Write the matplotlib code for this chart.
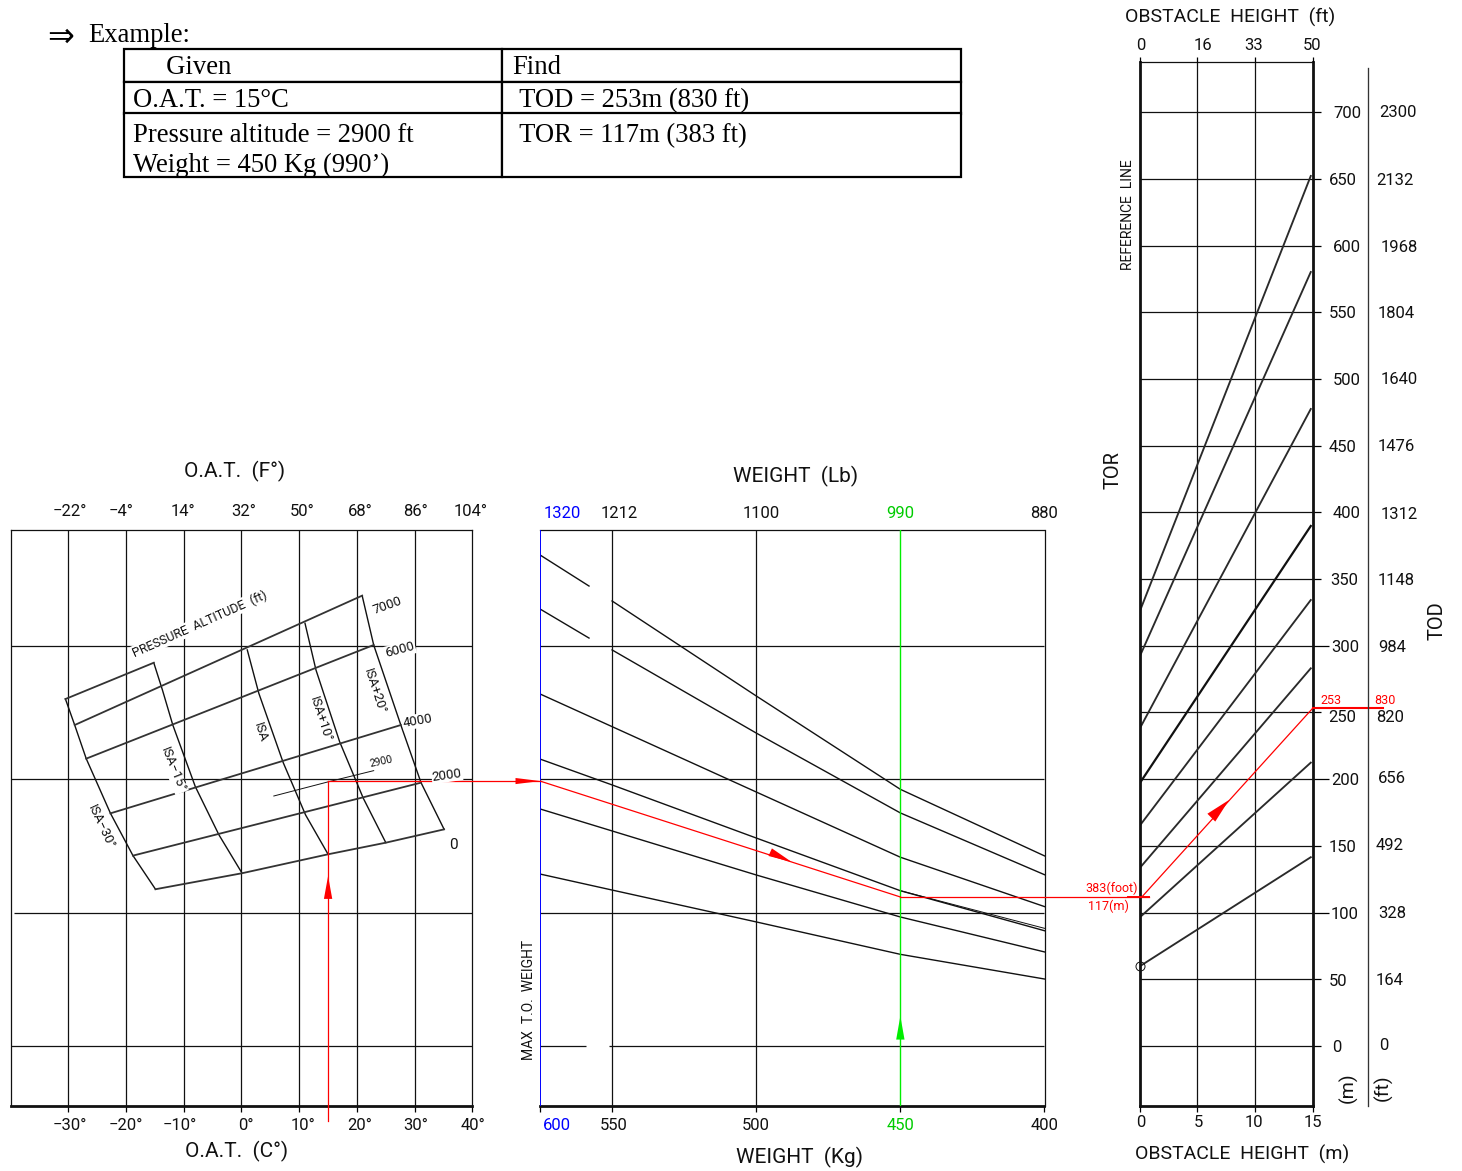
import numpy as np
import matplotlib
matplotlib.use("Agg")
import matplotlib.pyplot as plt
from matplotlib.transforms import ScaledTranslation

CAD = ["Roboto", "DejaVu Sans"]
SERIF = ["Liberation Serif", "DejaVu Serif"]
W, H = 1462, 1171
INK = "#111111"

# --- table
table_text = [["     Given", "Find"],
              ["O.A.T. = 15°C", " TOD = 253m (830 ft)"],
              ["Pressure altitude = 2900 ft\nWeight = 450 Kg (990’)", " TOR = 117m (383 ft)\n "]]

# --- left panel: OAT chart (x in deg C, y on the common TOD metre scale)
oat_c = [-30, -20, -10, 0, 10, 20, 30, 40]
oat_f = ["−22°", "−4°", "14°", "32°", "50°", "68°", "86°", "104°"]
oat_c_labels = ["−30°", "−20°", "−10°", "0°", "10°", "20°", "30°", "40°"]
row_levels = [0, 100, 200, 300]

isa_m30_t = [-30.5, -28.9, -26.9, -22.7, -18.8, -14.9]
isa_m30_y = [260.1, 240.6, 215.4, 174.4, 142.7, 117.5]
isa_m15_t = [-15.2, -13.7, -11.9, -8.0, -3.9, 0.1]
isa_m15_y = [287.3, 266.9, 240.6, 194.4, 158.2, 129.5]
isa_0_t = [1.0, 3.0, 7.2, 11.1, 15.0]
isa_0_y = [296.9, 264.4, 212.7, 173.2, 143.7]
isa_p10_t = [11.0, 12.9, 17.0, 21.1, 25.0]
isa_p10_y = [316.9, 281.9, 228.1, 185.7, 152.4]
isa_p20_t = [20.9, 22.9, 27.6, 31.1, 35.1]
isa_p20_y = [337.6, 300.6, 240.6, 197.4, 162.4]

alt_top_t = [-30.5, -15.2]
alt_top_y = [260.1, 287.3]
alt_7000_t = [-28.9, 20.9]
alt_7000_y = [240.6, 337.6]
alt_6000_t = [-26.9, 22.9]
alt_6000_y = [215.4, 300.6]
alt_4000_t = [-22.7, 27.6]
alt_4000_y = [174.4, 240.6]
alt_2000_t = [-18.8, 31.1]
alt_2000_y = [142.7, 197.4]
alt_0_t = [-14.9, 0.1, 15.0, 25.0, 35.1]
alt_0_y = [117.5, 129.5, 143.7, 152.4, 162.4]
alt_2900_t = [5.6, 15.1, 22.9]
alt_2900_y = [187.4, 198.1, 206.4]

# --- middle panel: weight chart
weight_kg = [600, 550, 500, 450, 400]
weight_lb = ["1320", "1212", "1100", "990", "880"]
stub_kg = [600, 566]
main_kg = [550, 500, 450, 400]
w1_stub = [368.1, 344.8]
w2_stub = [327.6, 305.8]
w1 = [333.6, 262.4, 192.4, 142.5]
w2 = [296.9, 234.6, 174.7, 128.4]
w3 = [263.9, 239.4, 190.4, 141.5, 104.5]
w4 = [215.1, 195.7, 155.9, 116.4, 86.4]
w5 = [177.7, 161.2, 128.2, 96.7, 70.5]
w6 = [128.9, 116.9, 93.0, 68.7, 50.2]
w4b_kg = [450, 400]
w4b = [116.4, 88.2]

# --- right panel: obstacle chart
obst_m = [0, 5, 10, 15]
obst_ft = ["0", "16", "33", "50"]
guide_x = [0, 14.85]
g1 = [59.6, 141.5]
g2 = [96.2, 212.4]
g3 = [133.2, 283.1]
g4 = [164.9, 334.3]
g5 = [196.7, 389.8]
g6 = [237.6, 477.5]
g7 = [291.6, 580.2]
g8 = [325.3, 652.2]
tod_long = [100, 200, 300]
tod_short = [0, 50, 150, 250, 350, 400, 450, 500, 550, 600, 650, 700]
tod_m = [700, 650, 600, 550, 500, 450, 400, 350, 300, 250, 200, 150, 100, 50, 0]
tod_ft = ["2300", "2132", "1968", "1804", "1640", "1476", "1312", "1148", "984", "820", "656", "492", "328", "164", "0"]

# --- worked example
oat_given = 15
weight_given = 450
alt_level = 198.6
tor_level = 111.7
tod_level = 253

fig = plt.figure(figsize=(W / 100, H / 100), dpi=100)
Y0 = -45.0  # value at the bottom line of all panels
PX = 1.334  # pixels per metre of the common vertical scale


def val(py):
    return (1046 - py) / PX


def panel(x0, x1, y0, y1=1106):
    ax = fig.add_axes([x0 / W, 1 - y1 / H, (x1 - x0) / W, (y1 - y0) / H])
    ax.set_ylim(Y0, val(y0))
    ax.patch.set_alpha(0)
    return ax


def shift(labels, dxs, dys=None):
    dys = dys or [0] * len(dxs)
    for lab, dx, dy in zip(labels, dxs, dys):
        lab.set_transform(lab.get_transform() + ScaledTranslation(dx / 100, -dy / 100, fig.dpi_scale_trans))


def put(px, py, s, size=12.5, rot=0, color=INK, white=False, **kw):
    box = dict(fc="white", ec="none", pad=0.5) if white else None
    fig.text(px / W, 1 - py / H, s, fontsize=size, rotation=rot, color=color, family=CAD,
             ha="center", va="center", rotation_mode="anchor", bbox=box, **kw)


def arrow(ax, tip, base, color, length, half):
    ax.annotate("", xy=tip, xytext=base, annotation_clip=False,
                arrowprops=dict(arrowstyle=f"-|>,head_length={length},head_width={half}", color=color,
                                lw=0, shrinkA=0, shrinkB=0, mutation_scale=1))


def style(ax, lw_bottom=2.0):
    for s in ax.spines.values():
        s.set_linewidth(0.9)
        s.set_color(INK)
    ax.spines["bottom"].set_linewidth(lw_bottom)


def broken(v):
    v = np.asarray(v, dtype=float)
    return np.where(v <= 550, v, 550 + (v - 550) * 0.5)


def unbroken(v):
    v = np.asarray(v, dtype=float)
    return np.where(v <= 550, v, 550 + (v - 550) * 2)


# table and header
ax_t = fig.add_axes([124 / W, 1 - 177.5 / H, 837 / W, 129 / H])
ax_t.axis("off")
tab = ax_t.table(cellText=table_text, colWidths=[377.5 / 837, 459.5 / 837], bbox=[0, 0, 1, 1], cellLoc="left")
tab.auto_set_font_size(False)
rows_h = [33, 32, 64]
for (r, c), cell in tab.get_celld().items():
    cell.set_height(rows_h[r])
    cell.set_linewidth(1.6)
    cell.PAD = 0.024
    cell.get_text().set_fontsize(19.2)
    cell.get_text().set_family(SERIF)
    cell.get_text().set_linespacing(1.22)
    cell.get_text().set_verticalalignment("center_baseline")
    cell.get_text().set_color("black")
fig.text(61 / W, 1 - 37 / H, "⇒", fontsize=23, ha="center", va="center", family="DejaVu Sans")
fig.text(88 / W, 1 - 36 / H, "Example:", fontsize=19.2, ha="left", va="center", family=SERIF)

# left panel
ax = panel(10.6, 472.4, 530)
ax.set_xlim(-40, 40)
style(ax)
ax.vlines(oat_c[:-1], Y0, val(530), color=INK, lw=0.9, zorder=1)
ax.hlines(row_levels, [-40, -39.4, -40, -40], 40, color=INK, lw=0.9, zorder=1)
for t, y in [(isa_m30_t, isa_m30_y), (isa_m15_t, isa_m15_y), (isa_0_t, isa_0_y),
             (isa_p10_t, isa_p10_y), (isa_p20_t, isa_p20_y)]:
    ax.plot(t, y, color=INK, lw=1.0, zorder=2)
for t, y in [(alt_top_t, alt_top_y), (alt_7000_t, alt_7000_y), (alt_6000_t, alt_6000_y),
             (alt_4000_t, alt_4000_y), (alt_2000_t, alt_2000_y), (alt_0_t, alt_0_y)]:
    ax.plot(t, y, color="#333333", lw=1.3, zorder=2)
ax.plot(alt_2900_t, alt_2900_y, color=INK, lw=0.7, zorder=2)
ax.set_xticks(oat_c, oat_c_labels, family=CAD, fontsize=12, color=INK)
ax.set_yticks([])
ax.tick_params(axis="x", length=4.3, width=0.9, pad=4.5)
shift(ax.get_xticklabels(), [2, 0, -4, 4, 4, 3, 1, 1])
top = ax.twiny()
top.set_xlim(-40, 40)
top.set_xticks(oat_c, oat_f, family=CAD, fontsize=12, color=INK)
top.tick_params(axis="x", length=0, pad=8)
top.spines[:].set_visible(False)
shift(top.get_xticklabels(), [2, -5, -1, 2, 3, 3, 1, -2])
ax.plot([oat_given, oat_given], [val(1121), alt_level], color="red", lw=0.9, clip_on=False, zorder=4)
ax.plot([oat_given, 51.8], [alt_level, alt_level], color="red", lw=0.9, clip_on=False, zorder=4)
arrow(ax, (oat_given, val(876)), (oat_given, val(899)), "red", 16.5, 3.0)
arrow(ax, (51.8, alt_level), (47.5, alt_level), "red", 18, 2.2)

# middle panel (the axis is broken between 550 and 600 kg)
ax = panel(540, 1044.5, 530)
ax.set_xscale("function", functions=(broken, unbroken))
ax.set_xlim(600, 400)
style(ax)
ax.spines["left"].set_visible(False)
ax.vlines([550, 500], Y0, val(530), color=INK, lw=0.9, zorder=1)
ax.hlines([100, 200, 300], 600, 400, color=INK, lw=0.9, zorder=1)
ax.hlines([0, 0], [600, 552], [568, 400], color=INK, lw=0.9, zorder=1)
ax.axvline(600, color="blue", lw=1.4, zorder=3)
ax.axvline(weight_given, color="#00ee00", lw=1.0, zorder=3)
ax.plot(stub_kg, w1_stub, color=INK, lw=1.0)
ax.plot(stub_kg, w2_stub, color=INK, lw=1.0)
ax.plot(main_kg, w1, color=INK, lw=1.0)
ax.plot(main_kg, w2, color=INK, lw=1.0)
for w in [w3, w4, w5, w6]:
    ax.plot(weight_kg, w, color=INK, lw=1.0)
ax.plot(w4b_kg, w4b, color=INK, lw=0.7)
ax.set_xticks(weight_kg, [str(k) for k in weight_kg], family=CAD, fontsize=12, color=INK)
ax.set_xticks([], minor=True)
ax.set_yticks([])
ax.tick_params(axis="x", length=4.3, width=0.9, pad=4.5)
ax.get_xticklabels()[0].set_color("blue")
ax.get_xticklabels()[3].set_color("#00cc00")
shift(ax.get_xticklabels(), [17, 2, 0, 0, 0])
top = ax.twiny()
top.set_xscale("function", functions=(broken, unbroken))
top.set_xlim(600, 400)
top.set_xticks(weight_kg, weight_lb, family=CAD, fontsize=12, color=INK)
top.set_xticks([], minor=True)
top.tick_params(axis="x", length=0, pad=6.5)
top.spines[:].set_visible(False)
top.get_xticklabels()[0].set_color("blue")
top.get_xticklabels()[3].set_color("#00cc00")
shift(top.get_xticklabels(), [22, 7, 5, 0, 0])
ax.plot([600, weight_given], [alt_level, tor_level], color="red", lw=0.9, zorder=4)
arrow(ax, (487.7, val(862)), (495.3, val(852)), "red", 17, 3.0)
arrow(ax, (weight_given, val(1016)), (weight_given, val(1040)), "#00ee00", 17, 3.0)

# right panel
ax = panel(1139.5, 1312.5, 62)
ax.set_xlim(0, 15)
style(ax)
for s in ["left", "right"]:
    ax.spines[s].set_linewidth(2.0)
ax.vlines([5, 10], Y0, val(62), color=INK, lw=0.9, zorder=1)
ax.hlines(tod_m, 0, 15, color=INK, lw=0.9, zorder=1)
for g in [g1, g2, g3, g4, g6, g7, g8]:
    ax.plot(guide_x, g, color="#2a2a2a", lw=1.35)
ax.plot(guide_x, g5, color="#111111", lw=1.6)
ax.plot([0], [g1[0]], "o", mfc="none", mec=INK, mew=0.7, ms=6.5, clip_on=False, zorder=5)
ax.set_xticks(obst_m, [str(m) for m in obst_m], family=CAD, fontsize=12, color=INK)
ax.tick_params(axis="x", length=4.3, width=0.9, pad=2.5)
shift(ax.get_xticklabels(), [1, 1, -1, 0])
ax.yaxis.tick_right()
ax.set_yticks(tod_long, [str(v) for v in tod_long], family=CAD, fontsize=12, color=INK)
ax.set_yticks(tod_short, [str(v) for v in tod_short], minor=True, family=CAD, fontsize=12, color=INK)
ax.tick_params(axis="y", which="major", length=11.5, width=0.9, pad=1.8)
ax.tick_params(axis="y", which="minor", length=5.8, width=0.9, pad=6)
shift(ax.get_yticklabels(minor=True), [3, 0, 0, -1, 1, 4, 0, 4, 0, 4, 0, 4], [0, 1, 0, 4, 0, 0, 0, 0, 0, 0, 0, 0])
top = ax.twiny()
top.set_xlim(0, 15)
top.set_xticks(obst_m, obst_ft, family=CAD, fontsize=12, color=INK)
top.tick_params(axis="x", length=3.6, width=0.9, pad=3.0)
top.spines[:].set_visible(False)
shift(top.get_xticklabels(), [1, 6, -1, 0])
ax.plot([-20.77, 0.8], [tor_level, tor_level], color="red", lw=0.9, clip_on=False, zorder=4)
ax.plot([-1.0, 0.8], [tor_level, tor_level], color="red", lw=1.4, clip_on=False, zorder=4)
ax.plot([0.2, 15], [tor_level, tod_level], color="red", lw=0.9, clip_on=False, zorder=4)
ax.plot([15, 21.1], [tod_level, tod_level], color="red", lw=1.5, clip_on=False, zorder=4)
arrow(ax, (7.76, val(800)), (6.2, val(818)), "red", 18, 4.0)

# TOD scale in feet, second column beside the metre labels
ax_ft = panel(1368, 1398, 68)
for s in ["top", "right", "bottom"]:
    ax_ft.spines[s].set_visible(False)
ax_ft.spines["left"].set_linewidth(0.95)
ax_ft.spines["left"].set_color("#333333")
ax_ft.set_xticks([])
ax_ft.yaxis.tick_right()
ax_ft.set_yticks(tod_m, tod_ft, family=CAD, fontsize=12, color=INK, ha="center")
ax_ft.tick_params(axis="y", length=0, pad=0)
shift(ax_ft.get_yticklabels(), [0, -3, 1, -2, 1, -2, 1, -2, -6, -8, -6, -8, -6, -8, -14],
      [-1, 0, 0, 0, -1, -1, 1, 0, 0, 4, -2, -2, -1, 0, -2])

# titles and chart notes
put(235, 471, "O.A.T.  (F°)", 15)
put(237, 1151, "O.A.T.  (C°)", 15)
put(796, 476, "WEIGHT  (Lb)", 15)
put(799, 1157, "WEIGHT  (Kg)", 15)
put(1230, 17, "OBSTACLE  HEIGHT  (ft)", 14)
put(1242, 1154, "OBSTACLE  HEIGHT  (m)", 14)
put(1113, 470, "TOR", 14.5, rot=90)
put(1437, 621, "TOD", 14.5, rot=90)
put(1128, 215, "REFERENCE  LINE", 10, rot=90)
put(529, 1000, "MAX  T.O.  WEIGHT", 10, rot=90)
put(1348, 1088, "(m)", 14, rot=90)
put(1383, 1088, "(ft)", 14, rot=90)
put(200, 624, "PRESSURE  ALTITUDE  (ft)", 9, rot=24, white=True)
put(387, 606, "7000", 9.5, rot=20, white=True)
put(400, 650, "6000", 9.5, rot=15, white=True)
put(418, 721, "4000", 9.5, rot=10, white=True)
put(447, 775, "2000", 9.5, rot=8, white=True)
put(453, 845, "0", 11, white=True)
put(381, 762, "2900", 7.5, rot=12)
put(101, 827, "ISA−30°", 9.5, rot=-65, white=True)
put(173, 770, "ISA−15°", 9.5, rot=-68, white=True)
put(260, 732, "ISA", 9.5, rot=-72, white=True)
put(321, 719, "ISA+10°", 9.5, rot=-72, white=True)
put(375, 691, "ISA+20°", 9.5, rot=-72, white=True)
put(1112, 888, "383(foot)", 9, color="red")
put(1108, 906, "117(m)", 9, color="red")
put(1331, 700, "253", 9, color="red")
put(1385, 700, "830", 9, color="red")

fig.savefig("out.png", dpi=100)
